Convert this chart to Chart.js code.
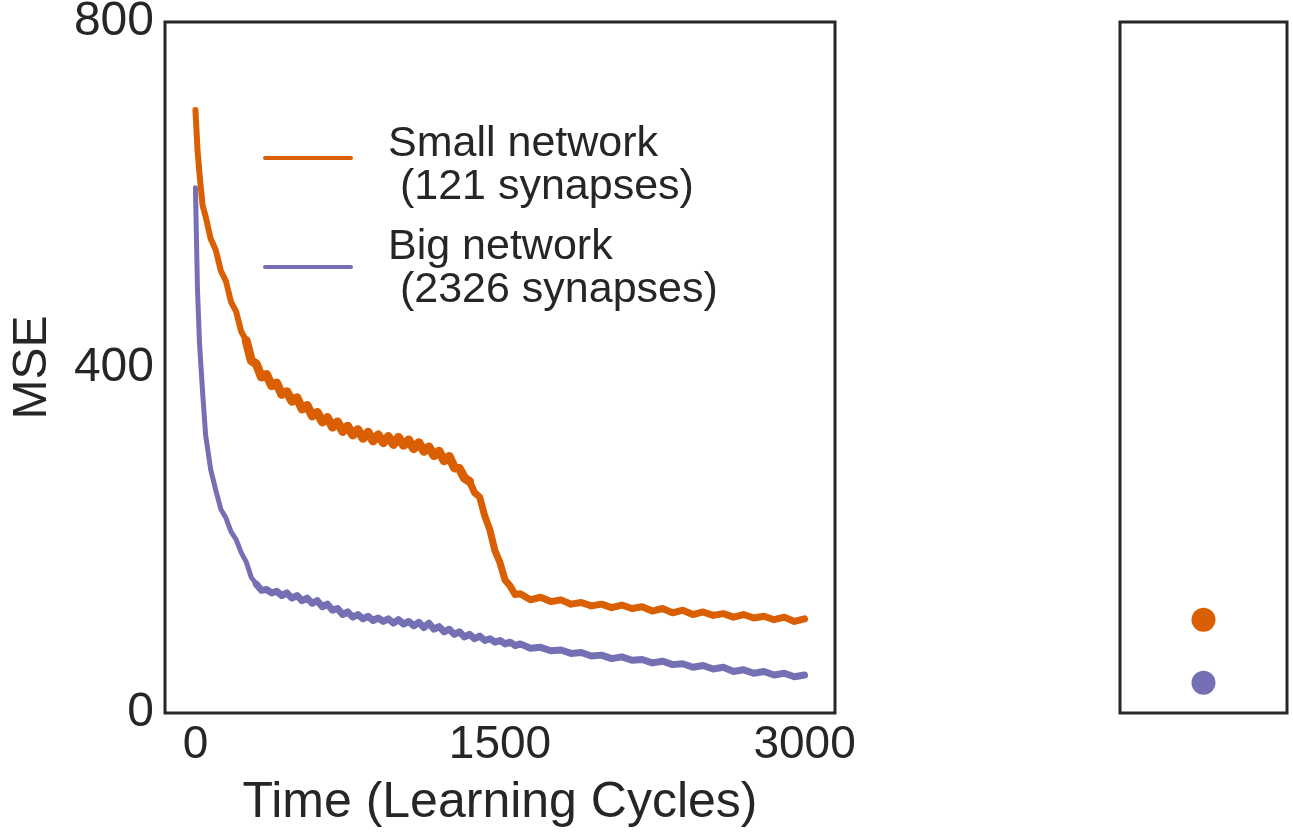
<!DOCTYPE html>
<html>
<head>
<meta charset="utf-8">
<script src="https://cdn.jsdelivr.net/npm/chart.js@4.4.1/dist/chart.umd.min.js"></script>
<style>
  html, body { margin: 0; padding: 0; background: #fff; }
  body { width: 1293px; height: 835px; position: relative; overflow: hidden;
         font-family: 'Liberation Sans', Arial, sans-serif; color: #262626; }
  #mainChart { position: absolute; left: 0; top: 0; }
  #sideChart { position: absolute; left: 1090px; top: 0; }
  .key { position: absolute; left: 263px; width: 90px; height: 4px; border-radius: 2px; }
  .lbl { position: absolute; left: 388px; font-size: 43px; line-height: 43px; white-space: pre; }
</style>
</head>
<body>
<canvas id="mainChart" width="870" height="835"></canvas>
<canvas id="sideChart" width="203" height="835"></canvas>
<div id="legend"></div>
<script>
/** datos */
const cycles = [0,10,20,35,50,75,100,125,150,175,200,225,250,275,300,325,350,375,400,425,450,475,500,525,550,575,600,625,650,675,700,725,750,775,800,825,850,875,900,925,950,975,1000,1025,1050,1075,1100,1125,1150,1175,1200,1225,1250,1275,1300,1325,1350,1375,1400,1425,1450,1475,1500,1525,1550,1575,1600,1650,1700,1750,1800,1850,1900,1950,2000,2050,2100,2150,2200,2250,2300,2350,2400,2450,2500,2550,2600,2650,2700,2750,2800,2850,2900,2950,3000]

const smallNet = [698,652,624,588,
  575,549,536,512,500,476,465,442,431,
  408,404,389,392,379,382,369,372,361,365,352,356,344,348,337,342,331,337,326,332,322,328,318,325,315,322,313,320,311,319,310,316,306,313,303,308,298,303,292,297,284,
  283,272,268,255,250,228,212,188,174,154,147,137,138,
  131,134,129,131,126,128,124,126,122,125,121,123,118,121,116,119,114,117,113,115,111,114,110,112,108,111,106,109]

const bigNet = [608,490,428,372,
  322,282,258,236,226,210,201,186,175,157,149,142,143,139,141,136,139,133,136,130,133,127,130,123,126,119,121,114,117,111,114,109,112,107,110,106,109,104,108,103,106,101,105,99,104,97,100,94,97,91,94,88,91,86,89,84,86,82,84,80,82,78,80,
  75,76,72,73,69,70,66,67,63,65,61,62,58,60,56,57,53,55,51,53,48,50,46,48,44,46,42,44]

const finalMse = [108, 35]
const xTicks = [0, 1500, 3000]
const yTicks = [0, 400, 800]
const seriesNames = ["Small network\n (121 synapses)", "Big network\n (2326 synapses)"]

/** estilos */
const colors = ['#d95f02', '#7570b3']
const ink = '#262626'

Chart.defaults.font.family = "'Liberation Sans', Arial, sans-serif"
Chart.defaults.color = ink

// el ruido hace la banda mas gruesa en algunas zonas
function smallWidth(c) {
  const x = c.p0.parsed.x
  if (x < 250) return 6
  if (x < 1350) return 9
  return 7
}
function bigWidth(c) {
  return c.p0.parsed.x < 300 ? 5 : 7
}

// marco completo alrededor del area
const frame = {
  id: 'frame',
  afterDraw(chart) {
    const ctx = chart.ctx
    const a = chart.chartArea
    ctx.save()
    ctx.strokeStyle = ink
    ctx.lineWidth = 3
    ctx.strokeRect(a.left, a.top, a.right - a.left, a.bottom - a.top)
    ctx.restore()
  }
}

function points(values) {
  return cycles.map((c, i) => ({ x: c, y: values[i] }))
}

new Chart(document.getElementById('mainChart'), {
  type: 'line',
  data: {
    datasets: [
      { label: seriesNames[0], data: points(smallNet), borderColor: colors[0], borderWidth: 6, pointRadius: 0, tension: 0,
        borderJoinStyle: 'round', borderCapStyle: 'round', segment: { borderWidth: smallWidth } },
      { label: seriesNames[1], data: points(bigNet), borderColor: colors[1], borderWidth: 5, pointRadius: 0, tension: 0,
        borderJoinStyle: 'round', borderCapStyle: 'round', segment: { borderWidth: bigWidth } }
    ]
  },
  options: {
    responsive: false,
    animation: false,
    layout: { autoPadding: false, padding: { left: 0, right: 35, top: 22, bottom: 0 } },
    plugins: { legend: { display: false }, tooltip: { enabled: false } },
    scales: {
      x: {
        type: 'linear', min: -150, max: 3150,
        grid: { display: false, drawTicks: false },
        border: { display: false },
        afterBuildTicks: axis => { axis.ticks = xTicks.map(v => ({ value: v })) },
        afterFit: axis => { axis.height = 122 },
        ticks: { autoSkip: false, maxRotation: 0, padding: 5, font: { size: 46 }, callback: v => String(v) },
        title: { display: true, text: 'Time (Learning Cycles)', font: { size: 50 }, padding: { top: 0, bottom: 2 } }
      },
      y: {
        min: 0, max: 800,
        grid: { display: false, drawTicks: false },
        border: { display: false },
        afterBuildTicks: axis => { axis.ticks = yTicks.map(v => ({ value: v })) },
        afterFit: axis => { axis.width = 165 },
        ticks: { padding: 11, font: { size: 48, lineHeight: 0.2 }, callback: v => String(v) },
        title: { display: true, text: 'MSE', font: { size: 48 }, padding: { top: 4, bottom: 0 } }
      }
    }
  },
  plugins: [frame]
})

/** panel de la derecha con el valor final */
new Chart(document.getElementById('sideChart'), {
  type: 'scatter',
  data: {
    datasets: finalMse.map((v, i) => ({
      data: [{ x: 0, y: v }],
      backgroundColor: colors[i], borderWidth: 0, pointRadius: 12
    }))
  },
  options: {
    responsive: false,
    animation: false,
    layout: { autoPadding: false, padding: { left: 30, right: 6, top: 22, bottom: 122 } },
    plugins: { legend: { display: false }, tooltip: { enabled: false } },
    scales: {
      x: { display: false, min: -1, max: 1 },
      y: { display: false, min: 0, max: 800 }
    }
  },
  plugins: [frame]
})

/** leyenda */
const legend = document.getElementById('legend')
const keyTop = [156, 265]
const labelTop = [120, 223]
seriesNames.forEach((name, i) => {
  let k = document.createElement('div')
  k.className = 'key'
  k.style.top = keyTop[i] + 'px'
  k.style.background = colors[i]
  legend.appendChild(k)
  let t = document.createElement('div')
  t.className = 'lbl'
  t.style.top = labelTop[i] + 'px'
  t.textContent = name
  legend.appendChild(t)
})
</script>
</body>
</html>
